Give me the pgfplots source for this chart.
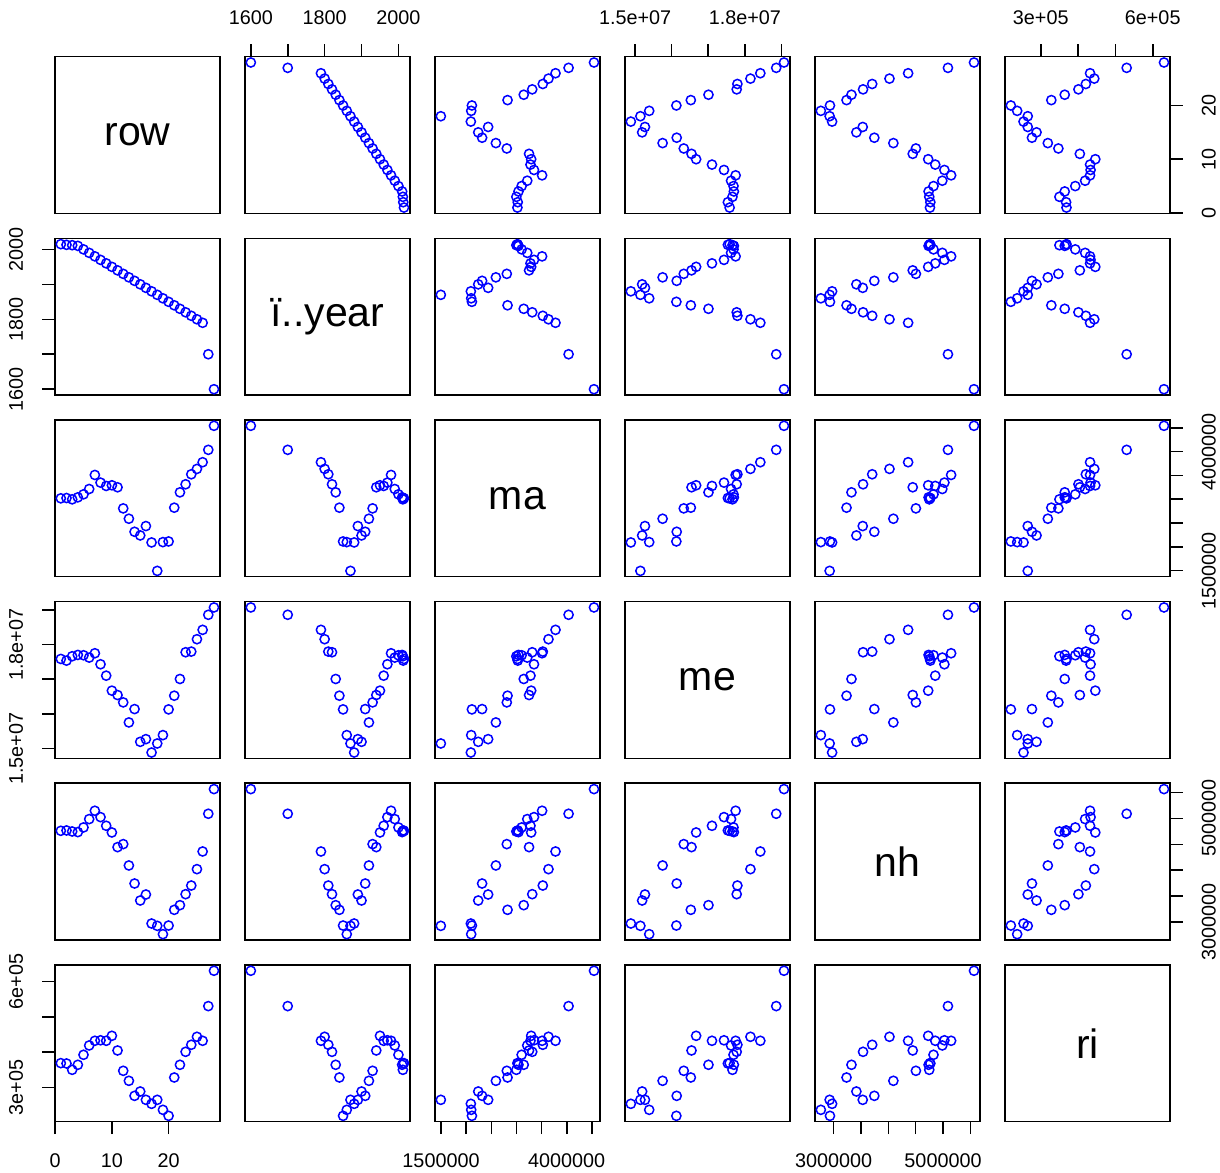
\documentclass[border=0pt]{standalone}
\usepackage{fontspec}
\setmainfont{Liberation Sans}
\usepackage{pgfplots}
\usepackage{pgfplotstable}
\pgfplotsset{compat=1.18}

\pgfplotstableread{
row year ma me nh ri
1 2015 3019000 17583000 4761000 368900
2 2013 3026000 17535000 4768000 367900
3 2012 2998000 17660000 4748000 350000
4 2010 3040000 17699000 4736000 364200
5 2000 3103000 17689000 4826000 392500
6 1990 3215000 17622000 4987000 418900
7 1980 3510000 17747000 5148000 432100
8 1970 3349000 17429000 5025000 433500
9 1960 3279000 17101000 4858000 432100
10 1950 3293000 16668000 4729000 446200
11 1940 3251000 16542000 4446000 404700
12 1930 2808000 16330000 4504000 347200
13 1920 2591000 15752000 4092000 318900
14 1910 2317000 16137000 3744000 276400
15 1900 2240000 15193000 3416000 288700
16 1890 2437000 15270000 3532000 265100
17 1880 2093000 14884000 2972000 253800
18 1870 1496000 15145000 2927000 265100
19 1860 2100000 15386000 2766000 236800
20 1850 2114000 16128000 2933000 219800
21 1840 2823000 16523000 3236000 328300
22 1830 3145000 17005000 3326000 364200
23 1820 3314000 17776000 3538000 400900
24 1810 3524000 17795000 3705000 420800
25 1800 3637000 18152000 4021000 443400
26 1790 3777000 18422000 4362000 432100
27 1700 4037000 18856000 5090000 530200
28 1600 4542000 19068000 5566000 630200
}\data

% axis limits: data range extended by 4% on each side
\expandafter\def\csname vminrow\endcsname{-0.08}
\expandafter\def\csname vmaxrow\endcsname{29.08}
\expandafter\def\csname vminyear\endcsname{1583.4}
\expandafter\def\csname vmaxyear\endcsname{2031.6}
\expandafter\def\csname vminma\endcsname{1374200}
\expandafter\def\csname vmaxma\endcsname{4663800}
\expandafter\def\csname vminme\endcsname{14716600}
\expandafter\def\csname vmaxme\endcsname{19235400}
\expandafter\def\csname vminnh\endcsname{2654000}
\expandafter\def\csname vmaxnh\endcsname{5678000}
\expandafter\def\csname vminri\endcsname{203380}
\expandafter\def\csname vmaxri\endcsname{646620}

\pgfplotsset{
  panel/.style={
    anchor=north west, width=82.7pt, height=78.35pt, scale only axis,
    axis line style={line width=0.8pt, black},
    xtick=\empty, ytick=\empty, clip=false,
    scaled ticks=false,
    tick align=outside, major tick length=6.25pt,
    every tick/.style={line width=0.8pt, black},
    tick label style={font=\fontsize{9.9}{11.8}\selectfont},
  },
  tk row/.style={#1tick={0,10,20}, #1ticklabels={0,10,20}},
  tk year/.style={#1tick={1600,1700,1800,1900,2000}, #1ticklabels={1600,,1800,,2000}},
  tk ma/.style={#1tick={1500000,2000000,2500000,3000000,3500000,4000000,4500000}, #1ticklabels={1500000,,,,,4000000,}},
  tk me/.style={#1tick={15000000,16000000,17000000,18000000,19000000}, #1ticklabels={1.5e+07,,,1.8e+07,}},
  tk nh/.style={#1tick={3000000,3500000,4000000,4500000,5000000,5500000}, #1ticklabels={3000000,,,,5000000,}},
  tk ri/.style={#1tick={300000,400000,500000,600000}, #1ticklabels={3e+05,,,6e+05}},
  top ax/.style={tk #1=x, xtick pos=right, xticklabel pos=right,
    xticklabel style={anchor=south, yshift=6pt}},
  bottom ax/.style={tk #1=x, xtick pos=left, xticklabel pos=left,
    xticklabel style={anchor=north, yshift=-6pt}},
  left ax/.style={tk #1=y, ytick pos=left, yticklabel pos=left,
    yticklabel style={xshift=-6pt, rotate=90, anchor=south}},
  right ax/.style={tk #1=y, ytick pos=right, yticklabel pos=right,
    yticklabel style={xshift=6pt, rotate=90, anchor=north}},
}

\newcommand{\panel}[5]{%
  \pgfmathsetmacro\px{27.35+95*(#2-1)}%
  \pgfmathsetmacro\py{557.65-90.825*(#1-1)}%
  \begin{axis}[panel, at={(\px pt,\py pt)},
    xmin=\csname vmin#3\endcsname, xmax=\csname vmax#3\endcsname,
    ymin=\csname vmin#4\endcsname, ymax=\csname vmax#4\endcsname, #5]
    \addplot[only marks, mark=o, mark size=2.3pt, color=blue,
      mark options={line width=0.75pt}] table[x=#3, y=#4] {\data};
  \end{axis}}

\newcommand{\diagpanel}[3]{%
  \pgfmathsetmacro\px{27.35+95*(#1-1)}%
  \pgfmathsetmacro\py{557.65-90.825*(#1-1)}%
  \begin{axis}[panel, at={(\px pt,\py pt)}, xmin=0, xmax=1, ymin=0, ymax=1, #3]
    \node at (axis cs:0.5,0.5) {\fontsize{20.5}{24}\selectfont #2};
  \end{axis}}

\begin{document}
\begin{tikzpicture}
\path[use as bounding box] (0,0) rectangle (610pt,586pt);
% row 1 (y = row)
\diagpanel{1}{row}{}
\panel{1}{2}{year}{row}{top ax=year}
\panel{1}{3}{ma}{row}{}
\panel{1}{4}{me}{row}{top ax=me}
\panel{1}{5}{nh}{row}{}
\panel{1}{6}{ri}{row}{top ax=ri, right ax=row}
% row 2 (y = year)
\panel{2}{1}{row}{year}{left ax=year}
\diagpanel{2}{ï..year}{}
\panel{2}{3}{ma}{year}{}
\panel{2}{4}{me}{year}{}
\panel{2}{5}{nh}{year}{}
\panel{2}{6}{ri}{year}{}
% row 3 (y = ma)
\panel{3}{1}{row}{ma}{}
\panel{3}{2}{year}{ma}{}
\diagpanel{3}{ma}{}
\panel{3}{4}{me}{ma}{}
\panel{3}{5}{nh}{ma}{}
\panel{3}{6}{ri}{ma}{right ax=ma}
% row 4 (y = me)
\panel{4}{1}{row}{me}{left ax=me}
\panel{4}{2}{year}{me}{}
\panel{4}{3}{ma}{me}{}
\diagpanel{4}{me}{}
\panel{4}{5}{nh}{me}{}
\panel{4}{6}{ri}{me}{}
% row 5 (y = nh)
\panel{5}{1}{row}{nh}{}
\panel{5}{2}{year}{nh}{}
\panel{5}{3}{ma}{nh}{}
\panel{5}{4}{me}{nh}{}
\diagpanel{5}{nh}{}
\panel{5}{6}{ri}{nh}{right ax=nh}
% row 6 (y = ri)
\panel{6}{1}{row}{ri}{left ax=ri, bottom ax=row}
\panel{6}{2}{year}{ri}{}
\panel{6}{3}{ma}{ri}{bottom ax=ma}
\panel{6}{4}{me}{ri}{}
\panel{6}{5}{nh}{ri}{bottom ax=nh}
\diagpanel{6}{ri}{}
\end{tikzpicture}
\end{document}
